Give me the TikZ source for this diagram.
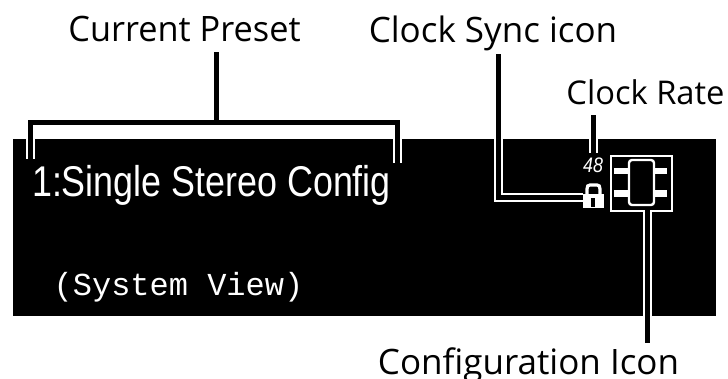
\documentclass[tikz,border=0pt]{standalone}
\usepackage{fontspec}
\setmainfont{Open Sans}
\newfontfamily\panelsans{Liberation Sans}
\newfontfamily\panelmono{Liberation Mono}
\usetikzlibrary{calc}
\tikzset{
  x=1pt,y=-1pt,
  callout/.style={inner sep=0pt,anchor=base,font=\fontsize{35}{35}\selectfont,text=black},
  lead/.style={draw=black,line width=5pt,miter limit=10,preaction={draw=white,line width=9.5pt}},
  ink/.style={draw=white,line width=2.4pt},
  pin/.style={fill=white,draw=none}
}
\begin{document}
\begin{tikzpicture}
\useasboundingbox (0,0) rectangle (728,379);
\fill[black] (13,139) rectangle (716,316);
% panel text
\node[inner sep=0pt,anchor=base,text=white,xscale=.834,font=\panelsans\fontsize{43}{43}\selectfont] (preset) at (211.5,197) {1:Single Stereo Config};
\node[inner sep=0pt,anchor=base,text=white,font=\panelmono\fontsize{32}{32}\selectfont] (view) at (178.5,296) {(System View)};
\node[inner sep=0pt,anchor=base,text=white,xscale=.85,font=\panelsans\itshape\fontsize{21}{21}\selectfont] (rate) at (593,173) {48};
% lock icon
\node[inner sep=0pt,minimum width=21pt,minimum height=14.5pt,fill=white,anchor=north west] (lock) at (583,193.5) {};
\draw[white,line width=3.2pt] (587,194) -- (587,189) .. controls (587,186.2) and (588,185) .. (590,185) -- (597,185) .. controls (599,185) and (600,186.2) .. (600,189) -- (600,194);
\fill[black] (591,198) rectangle (595,207);
% configuration icon
\node[ink,inner sep=0pt,minimum width=61pt,minimum height=55pt,anchor=north west] (config) at (610,155) {};
\node[ink,inner sep=0pt,minimum width=25pt,minimum height=45pt,rounded corners=3pt] (chip) at (641.5,182.5) {};
\fill[pin] (614,168) rectangle (628,174);
\fill[pin] (614,190) rectangle (628,197);
\fill[pin] (655,168) rectangle (667,174);
\fill[pin] (655,190) rectangle (667,197);
% labels
\node[callout,xscale=.98] (lblPreset) at (184.5,42) {Current Preset};
\node[callout] (lblSync) at (493,43) {Clock Sync icon};
\node[callout,font=\fontsize{32.7}{32.7}\selectfont] (lblRate) at (645.5,105) {Clock Rate};
\node[callout] (lblConfig) at (528.5,374) {Configuration Icon};
% connectors
\coordinate (brL) at (30.5,159);
\coordinate (brR) at (397.5,163);
\coordinate (stem) at (216,122.5);
\coordinate (syncX) at (498.5,197.5);
\coordinate (rateX) at (593.5,153);
\coordinate (cfgX) at (647.5,210);
\draw[lead] (brL) |- (stem) -| (brR) (stem) -- ($(lblPreset.base -| stem)+(0,10)$);
\draw[lead] (lock.west |- syncX) -| ($(lblSync.base -| syncX)+(0,11)$);
\draw[lead] (rateX) -- ($(lblRate.base -| rateX)+(0,10)$);
\draw[lead] (cfgX) -- ($(lblConfig.base -| cfgX)+(0,-31)$);
\end{tikzpicture}
\end{document}
